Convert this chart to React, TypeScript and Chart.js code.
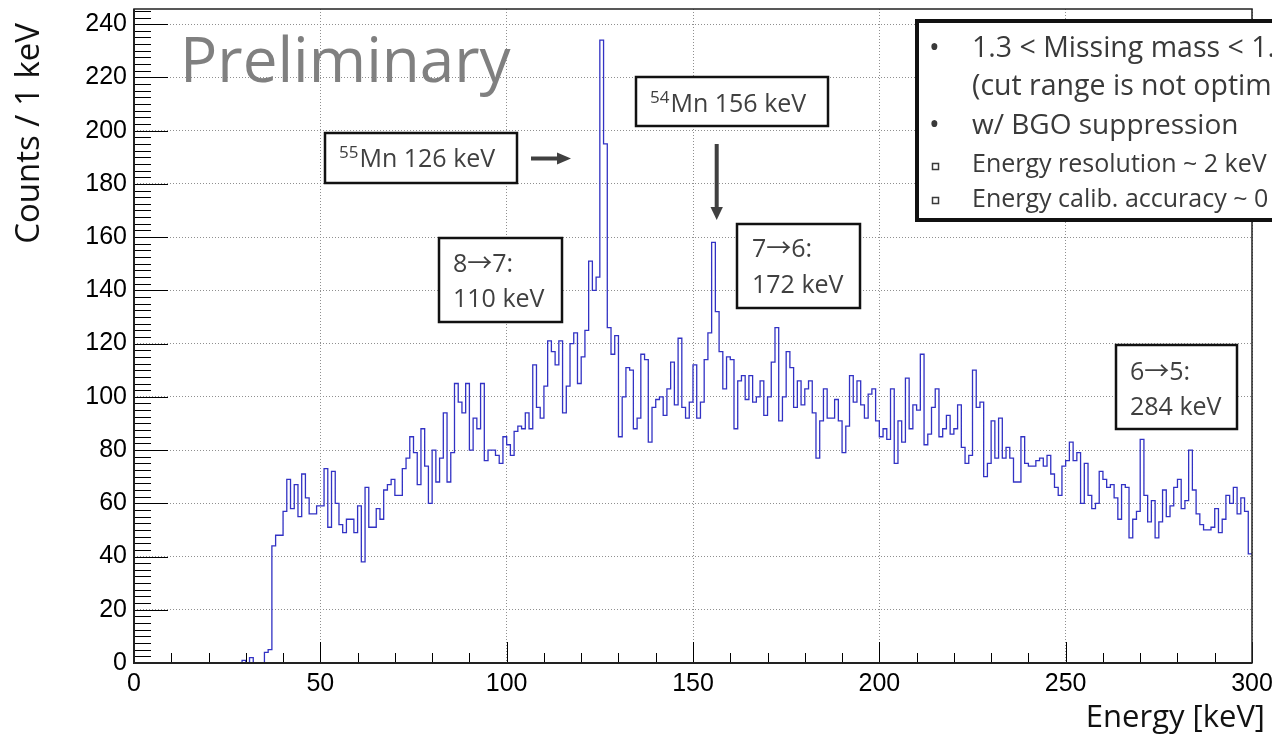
import React, { useEffect, useRef } from "react";
import { Chart, registerables } from "chart.js";

Chart.register(...registerables);

// ---------------- data ----------------
const binLowEdge = 0; // keV
const binWidthKeV = 1; // keV
const counts: number[] = [
  0, 0, 0, 0, 0, 0, 0, 0, 0, 0,
  0, 0, 0, 0, 0, 0, 0, 0, 0, 0,
  0, 0, 0, 0, 0, 0, 0, 0, 0, 1,
  0, 2, 0, 0, 0, 4, 5, 44, 48, 48,
  57, 69, 58, 67, 55, 71, 62, 56, 56, 59,
  59, 73, 51, 72, 60, 52, 49, 54, 54, 49,
  59, 38, 66, 51, 51, 58, 54, 65, 67, 69,
  63, 63, 73, 77, 85, 79, 67, 88, 74, 60,
  80, 68, 77, 94, 68, 79, 105, 98, 94, 105,
  80, 92, 88, 105, 76, 80, 80, 78, 75, 85,
  82, 78, 87, 89, 88, 94, 88, 112, 96, 92,
  104, 121, 117, 112, 121, 94, 104, 120, 124, 105,
  115, 125, 151, 140, 145, 234, 195, 126, 116, 123,
  85, 100, 111, 110, 88, 92, 116, 114, 83, 96,
  99, 100, 93, 103, 113, 97, 122, 96, 92, 98,
  112, 92, 98, 114, 124, 158, 132, 117, 103, 115,
  114, 88, 106, 108, 99, 108, 98, 100, 106, 93,
  100, 113, 126, 91, 100, 117, 111, 96, 106, 97,
  103, 106, 94, 77, 91, 103, 92, 92, 99, 91,
  79, 89, 108, 98, 106, 97, 92, 101, 103, 91,
  85, 88, 84, 103, 75, 91, 83, 107, 88, 97,
  95, 116, 82, 86, 96, 103, 85, 88, 93, 86,
  88, 97, 81, 75, 78, 110, 96, 98, 70, 75,
  91, 77, 92, 77, 81, 77, 68, 68, 85, 75,
  74, 74, 76, 77, 74, 78, 71, 66, 63, 74,
  76, 83, 76, 79, 60, 75, 63, 58, 60, 72,
  69, 66, 67, 62, 54, 67, 66, 47, 54, 57,
  84, 63, 53, 61, 47, 53, 65, 55, 59, 66,
  69, 58, 61, 80, 65, 56, 52, 50, 50, 51,
  58, 49, 54, 63, 60, 66, 56, 62, 57, 41,
];

const xMin = 0;
const xMax = 300;
const yMin = 0;
const yMax = 245.7;
const xTickValues = [0, 50, 100, 150, 200, 250, 300];
const yTickValues = [0, 20, 40, 60, 80, 100, 120, 140, 160, 180, 200, 220, 240];
const xMinorStep = 10;
const yMinorStep = 2.5;

const xTitle = "Energy [keV]";
const yTitle = "Counts / 1 keV";
const watermark = "Preliminary";
const peakLabels = [
  { sup: "55", text: "Mn 126 keV" },
  { sup: "54", text: "Mn 156 keV" },
];
const transitionLabels = [
  ["8→7:", "110 keV"],
  ["7→6:", "172 keV"],
  ["6→5:", "284 keV"],
];
const infoLines = [
  "1.3 < Missing mass < 1.",
  "(cut range is not optim",
  "w/ BGO suppression",
  "Energy resolution ~ 2 keV",
  "Energy calib. accuracy ~ 0",
];

// ---------------- drawing helpers ----------------
const SANS = '"Open Sans", "Noto Sans", sans-serif';
const ARROW_FONT = '"Noto Sans CJK JP", "DejaVu Sans", sans-serif';
const TEXT_GRAY = "#404040";

function drawBox(ctx: CanvasRenderingContext2D, x1: number, y1: number, x2: number, y2: number, lw: number) {
  ctx.save();
  ctx.fillStyle = "#ffffff";
  ctx.fillRect(x1, y1, x2 - x1, y2 - y1);
  ctx.lineWidth = lw;
  ctx.strokeStyle = "#111111";
  ctx.strokeRect(x1, y1, x2 - x1, y2 - y1);
  ctx.restore();
}

function drawRich(ctx: CanvasRenderingContext2D, x: number, baseline: number, s: string, size: number) {
  const parts = s.split("→");
  let cx = x;
  parts.forEach((p, i) => {
    if (i > 0) {
      ctx.font = `${size}px ${ARROW_FONT}`;
      ctx.fillText("→", cx, baseline);
      cx += ctx.measureText("→").width;
    }
    ctx.font = `${size}px ${SANS}`;
    ctx.fillText(p, cx, baseline);
    cx += ctx.measureText(p).width;
  });
}

function drawSupLabel(ctx: CanvasRenderingContext2D, x: number, baseline: number, sup: string, text: string) {
  ctx.save();
  ctx.fillStyle = TEXT_GRAY;
  ctx.textAlign = "left";
  ctx.textBaseline = "alphabetic";
  ctx.font = `17px ${SANS}`;
  ctx.fillText(sup, x, baseline - 9);
  const w = ctx.measureText(sup).width;
  ctx.font = `25px ${SANS}`;
  ctx.fillText(text, x + w + 1, baseline);
  ctx.restore();
}

function drawTwoLines(ctx: CanvasRenderingContext2D, x: number, b1: number, b2: number, lines: string[]) {
  ctx.save();
  ctx.fillStyle = TEXT_GRAY;
  ctx.textAlign = "left";
  ctx.textBaseline = "alphabetic";
  drawRich(ctx, x, b1, lines[0], 25);
  drawRich(ctx, x, b2, lines[1], 25);
  ctx.restore();
}

const rootStyle = {
  id: "rootStyle",
  afterDatasetsDraw(chart: any) {
    const ctx: CanvasRenderingContext2D = chart.ctx;
    const { left, right, top, bottom } = chart.chartArea;
    const xs = chart.scales.x;
    const ys = chart.scales.y;

    ctx.save();
    // inward ticks (ROOT style)
    ctx.strokeStyle = "#000";
    ctx.lineWidth = 1;
    ctx.beginPath();
    for (let v = xMin; v <= xMax + 1e-9; v += xMinorStep) {
      const px = Math.round(xs.getPixelForValue(v)) + 0.5;
      const len = xTickValues.includes(v) ? 21 : 10;
      ctx.moveTo(px, bottom);
      ctx.lineTo(px, bottom - len);
    }
    for (let v = yMin; v <= yMax + 1e-9; v += yMinorStep) {
      const py = Math.round(ys.getPixelForValue(v)) + 0.5;
      const len = yTickValues.includes(v) ? 34 : 17;
      ctx.moveTo(left, py);
      ctx.lineTo(left + len, py);
    }
    ctx.stroke();

    // frame
    ctx.strokeStyle = "#222";
    ctx.lineWidth = 1.5;
    ctx.strokeRect(left, top, right - left, bottom - top);
    ctx.lineWidth = 2;
    ctx.beginPath();
    ctx.moveTo(left, top);
    ctx.lineTo(left, bottom);
    ctx.lineTo(right, bottom);
    ctx.stroke();
    ctx.restore();

    // axis titles
    ctx.save();
    ctx.fillStyle = "#111";
    ctx.font = `31px ${SANS}`;
    ctx.textAlign = "right";
    ctx.textBaseline = "alphabetic";
    ctx.fillText(xTitle, 1265, 727);
    ctx.translate(38.5, 23);
    ctx.rotate(-Math.PI / 2);
    ctx.font = `33px ${SANS}`;
    ctx.fillText(yTitle, 0, 0);
    ctx.restore();

    // watermark
    ctx.save();
    ctx.fillStyle = "#808080";
    ctx.font = `62px ${SANS}`;
    ctx.textAlign = "left";
    ctx.textBaseline = "alphabetic";
    ctx.fillText(watermark, 180, 82);
    ctx.restore();

    // peak label boxes
    drawBox(ctx, 325, 133, 517, 183, 2.5);
    drawSupLabel(ctx, 339, 167, peakLabels[0].sup, peakLabels[0].text);
    drawBox(ctx, 636, 77, 828, 126, 2.5);
    drawSupLabel(ctx, 650, 112, peakLabels[1].sup, peakLabels[1].text);

    // arrows
    ctx.save();
    ctx.fillStyle = "#404040";
    ctx.fillRect(531, 156.5, 28, 4);
    ctx.beginPath();
    ctx.moveTo(557, 152.5);
    ctx.lineTo(571, 158.5);
    ctx.lineTo(557, 164.5);
    ctx.closePath();
    ctx.fill();
    ctx.fillRect(714.7, 144, 4, 65);
    ctx.beginPath();
    ctx.moveTo(710.5, 207);
    ctx.lineTo(722.9, 207);
    ctx.lineTo(716.7, 220);
    ctx.closePath();
    ctx.fill();
    ctx.restore();

    // transition boxes
    drawBox(ctx, 439, 238, 562, 322, 2.5);
    drawTwoLines(ctx, 453, 272, 307, transitionLabels[0]);
    drawBox(ctx, 737, 224, 860, 308, 2.5);
    drawTwoLines(ctx, 752, 257, 293, transitionLabels[1]);
    drawBox(ctx, 1116, 345, 1237, 429, 2.5);
    drawTwoLines(ctx, 1130, 380, 415, transitionLabels[2]);

    // info box (runs past right edge)
    drawBox(ctx, 917, 21, 1300, 220, 4);
    ctx.save();
    ctx.fillStyle = "#3a3a3a";
    ctx.textAlign = "left";
    ctx.textBaseline = "alphabetic";
    ctx.font = `28.5px ${SANS}`;
    ctx.fillText("•", 929, 57);
    ctx.fillText(infoLines[0], 972, 57);
    ctx.fillText(infoLines[1], 972, 95);
    ctx.fillText("•", 929, 134);
    ctx.font = `28px ${SANS}`;
    ctx.fillText(infoLines[2], 972, 134);
    ctx.font = `25px ${SANS}`;
    ctx.fillText(infoLines[3], 972, 172);
    ctx.fillText(infoLines[4], 972, 207);
    ctx.strokeStyle = "#3a3a3a";
    ctx.lineWidth = 1.5;
    ctx.strokeRect(932.5, 163.5, 6, 6);
    ctx.strokeRect(932.5, 197.5, 6, 6);
    ctx.restore();
  },
};

export default function App() {
  const canvasRef = useRef<HTMLCanvasElement | null>(null);

  useEffect(() => {
    if (!canvasRef.current) return;
    // each point sits on a bin's low edge; the last point closes the final bin
    const points = counts.map((c, i) => ({ x: binLowEdge + i * binWidthKeV, y: c }));
    points.push({ x: binLowEdge + counts.length * binWidthKeV, y: counts[counts.length - 1] });

    const chart = new Chart(canvasRef.current, {
      type: "line",
      data: {
        datasets: [
          {
            data: points,
            parsing: false,
            stepped: "before",
            borderColor: "#3232c4",
            borderWidth: 1.3,
            pointRadius: 0,
            fill: false,
            tension: 0,
          } as any,
        ],
      },
      options: {
        responsive: false,
        animation: false,
        devicePixelRatio: 1,
        layout: { padding: { left: 0, right: 20, top: 9, bottom: 0 } },
        plugins: { legend: { display: false }, tooltip: { enabled: false } },
        scales: {
          x: {
            type: "linear",
            min: xMin,
            max: xMax,
            afterBuildTicks: (s: any) => {
              s.ticks = xTickValues.map((v) => ({ value: v }));
            },
            afterFit: (s: any) => {
              s.height = 73;
              s.paddingLeft = 0;
              s.paddingRight = 0;
            },
            ticks: {
              font: { family: "Liberation Sans", size: 25 },
              color: "#000",
              padding: 6,
              maxRotation: 0,
              autoSkip: false,
            },
            grid: { color: "#8f8f8f", lineWidth: 1, drawTicks: false },
            border: { display: false, dash: [1, 2] },
          },
          y: {
            type: "linear",
            min: yMin,
            max: yMax,
            afterBuildTicks: (s: any) => {
              s.ticks = yTickValues.map((v) => ({ value: v }));
            },
            afterFit: (s: any) => {
              s.width = 134;
              s.paddingTop = 0;
              s.paddingBottom = 0;
            },
            ticks: {
              font: { family: "Liberation Sans", size: 25 },
              color: "#000",
              padding: 7,
              autoSkip: false,
              includeBounds: false,
            },
            grid: { color: "#8f8f8f", lineWidth: 1, drawTicks: false },
            border: { display: false, dash: [1, 2] },
          },
        },
      },
      plugins: [rootStyle],
    });
    return () => chart.destroy();
  }, []);

  return (
    <div style={{ position: "fixed", left: 0, top: 0, width: 1272, height: 736, background: "#fff" }}>
      <canvas ref={canvasRef} width={1272} height={736} />
    </div>
  );
}
